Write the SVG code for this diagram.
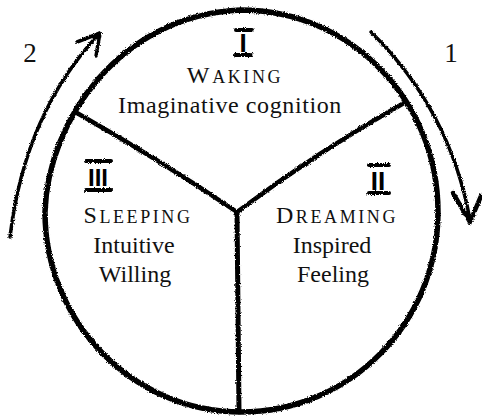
<svg xmlns="http://www.w3.org/2000/svg" width="482" height="417" viewBox="0 0 482 417">
<style>
.ink{fill:none;stroke:#000;stroke-linecap:round;stroke-linejoin:round}
.body{font-family:"Liberation Serif","Times New Roman",serif;font-size:24px;fill:#111;text-anchor:middle}
.cap{letter-spacing:2.6px}
.sc{font-size:18px}
.num{font-family:"Liberation Sans",Arial,sans-serif;font-weight:bold;fill:#000;text-anchor:middle}
.lbl{font-family:"Liberation Serif","Times New Roman",serif;font-size:27px;fill:#111;text-anchor:middle}
</style>
<defs>
<filter id="rough" filterUnits="userSpaceOnUse" x="0" y="0" width="482" height="417">
<feTurbulence type="fractalNoise" baseFrequency="0.9" numOctaves="2" seed="4" result="n"/>
<feDisplacementMap in="SourceGraphic" in2="n" scale="3.2" xChannelSelector="R" yChannelSelector="G"/>
</filter>
</defs>
<rect width="482" height="417" fill="#fff"/>
<g id="wheel" filter="url(#rough)">
<path class="ink" stroke-width="5.5" d="M241,10 C350,10 438,100 438,212 C438,323 350,412 241,412 C133,412 45,322 45,212 C48,120 120,15 241,10 Z"/>
<path class="ink" stroke-width="4.5" d="M77,113 Q160,160 237,212"/>
<path class="ink" stroke-width="4.5" d="M404,103 Q320,150 237,212"/>
<path class="ink" stroke-width="5" d="M237,212 L239,412"/>
</g>
<g id="connectors" filter="url(#rough)">
<g id="arrow-1">
<path class="ink" stroke-width="3.5" d="M371,32 Q450,110 470,220"/>
<path class="ink" stroke-width="4.5" d="M453,193 L470,222 L481,196"/>
</g>
<g id="arrow-2">
<path class="ink" stroke-width="3.5" d="M10,237 Q25,112 100,33"/>
<path class="ink" stroke-width="3.5" d="M77,42 L100,33 L96,56"/>
</g>
</g>
<text class="lbl" x="451" y="62">1</text>
<text class="lbl" x="30" y="62">2</text>
<g id="waking">
<g filter="url(#rough)">
<line class="ink" stroke-width="4" x1="236" y1="30" x2="252" y2="30"/>
<line class="ink" stroke-width="4" x1="235" y1="55" x2="251" y2="55"/>
</g>
<text class="num" x="243" y="52" font-size="26">I</text>
<text class="body cap" x="235" y="83"><tspan>W</tspan><tspan class="sc">AKING</tspan></text>
<text class="body" x="230" y="113" letter-spacing="0.6">Imaginative cognition</text>
</g>
<g id="dreaming">
<g filter="url(#rough)">
<line class="ink" stroke-width="4" x1="369" y1="165" x2="389" y2="165"/>
<line class="ink" stroke-width="4" x1="369" y1="193" x2="389" y2="193"/>
</g>
<text class="num" x="378" y="190" font-size="26">II</text>
<text class="body cap" x="337" y="223"><tspan>D</tspan><tspan class="sc">REAMING</tspan></text>
<text class="body" x="332" y="253">Inspired</text>
<text class="body" x="333" y="282">Feeling</text>
</g>
<g id="sleeping">
<g filter="url(#rough)">
<line class="ink" stroke-width="4" x1="86" y1="161" x2="111" y2="161"/>
<line class="ink" stroke-width="4" x1="86" y1="190" x2="111" y2="190"/>
</g>
<text class="num" x="98" y="186" font-size="24">III</text>
<text class="body cap" x="138" y="223"><tspan>S</tspan><tspan class="sc">LEEPING</tspan></text>
<text class="body" x="134" y="253">Intuitive</text>
<text class="body" x="135" y="282">Willing</text>
</g>
</svg>
